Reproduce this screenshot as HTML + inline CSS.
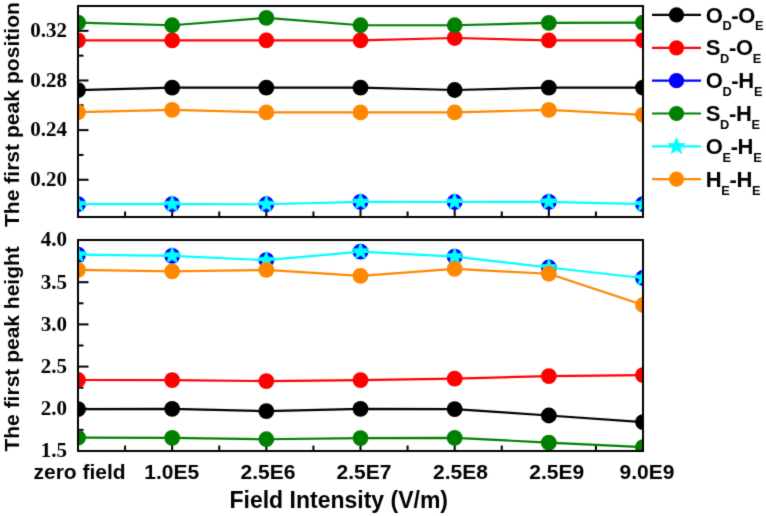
<!DOCTYPE html>
<html><head><meta charset="utf-8"><style>
html,body{margin:0;padding:0;background:#fff;}
body{width:766px;height:516px;overflow:hidden;}
svg{display:block;}
</style></head><body>
<svg width="766" height="516" viewBox="0 0 766 516">
<defs><filter id="bl" x="-5%" y="-5%" width="110%" height="110%" color-interpolation-filters="sRGB"><feConvolveMatrix order="3" kernelMatrix="0.0144 0.0912 0.0144 0.0912 0.5776 0.0912 0.0144 0.0912 0.0144" divisor="1" edgeMode="duplicate" preserveAlpha="false"/></filter><clipPath id="ct"><rect x="78" y="6" width="565" height="211"/></clipPath><clipPath id="cb"><rect x="78" y="240" width="565" height="211"/></clipPath></defs><g filter="url(#bl)"><rect x="-10" y="-10" width="800" height="550" fill="#fff"/><line x1="78" y1="179.76" x2="88.5" y2="179.76" stroke="#000" stroke-width="2"/><line x1="78" y1="130.12" x2="88.5" y2="130.12" stroke="#000" stroke-width="2"/><line x1="78" y1="80.47" x2="88.5" y2="80.47" stroke="#000" stroke-width="2"/><line x1="78" y1="30.82" x2="88.5" y2="30.82" stroke="#000" stroke-width="2"/><line x1="78" y1="204.59" x2="83.5" y2="204.59" stroke="#000" stroke-width="2"/><line x1="78" y1="154.94" x2="83.5" y2="154.94" stroke="#000" stroke-width="2"/><line x1="78" y1="105.29" x2="83.5" y2="105.29" stroke="#000" stroke-width="2"/><line x1="78" y1="55.65" x2="83.5" y2="55.65" stroke="#000" stroke-width="2"/><line x1="78.00" y1="217" x2="78.00" y2="207" stroke="#000" stroke-width="2"/><line x1="172.17" y1="217" x2="172.17" y2="207" stroke="#000" stroke-width="2"/><line x1="266.33" y1="217" x2="266.33" y2="207" stroke="#000" stroke-width="2"/><line x1="360.50" y1="217" x2="360.50" y2="207" stroke="#000" stroke-width="2"/><line x1="454.67" y1="217" x2="454.67" y2="207" stroke="#000" stroke-width="2"/><line x1="548.83" y1="217" x2="548.83" y2="207" stroke="#000" stroke-width="2"/><line x1="643.00" y1="217" x2="643.00" y2="207" stroke="#000" stroke-width="2"/><line x1="125.08" y1="217" x2="125.08" y2="211.5" stroke="#000" stroke-width="2"/><line x1="219.25" y1="217" x2="219.25" y2="211.5" stroke="#000" stroke-width="2"/><line x1="313.42" y1="217" x2="313.42" y2="211.5" stroke="#000" stroke-width="2"/><line x1="407.58" y1="217" x2="407.58" y2="211.5" stroke="#000" stroke-width="2"/><line x1="501.75" y1="217" x2="501.75" y2="211.5" stroke="#000" stroke-width="2"/><line x1="595.92" y1="217" x2="595.92" y2="211.5" stroke="#000" stroke-width="2"/><line x1="78" y1="451.00" x2="88.5" y2="451.00" stroke="#000" stroke-width="2"/><line x1="78" y1="408.80" x2="88.5" y2="408.80" stroke="#000" stroke-width="2"/><line x1="78" y1="366.60" x2="88.5" y2="366.60" stroke="#000" stroke-width="2"/><line x1="78" y1="324.40" x2="88.5" y2="324.40" stroke="#000" stroke-width="2"/><line x1="78" y1="282.20" x2="88.5" y2="282.20" stroke="#000" stroke-width="2"/><line x1="78" y1="240.00" x2="88.5" y2="240.00" stroke="#000" stroke-width="2"/><line x1="78" y1="429.90" x2="83.5" y2="429.90" stroke="#000" stroke-width="2"/><line x1="78" y1="387.70" x2="83.5" y2="387.70" stroke="#000" stroke-width="2"/><line x1="78" y1="345.50" x2="83.5" y2="345.50" stroke="#000" stroke-width="2"/><line x1="78" y1="303.30" x2="83.5" y2="303.30" stroke="#000" stroke-width="2"/><line x1="78" y1="261.10" x2="83.5" y2="261.10" stroke="#000" stroke-width="2"/><line x1="78.00" y1="451" x2="78.00" y2="441" stroke="#000" stroke-width="2"/><line x1="172.17" y1="451" x2="172.17" y2="441" stroke="#000" stroke-width="2"/><line x1="266.33" y1="451" x2="266.33" y2="441" stroke="#000" stroke-width="2"/><line x1="360.50" y1="451" x2="360.50" y2="441" stroke="#000" stroke-width="2"/><line x1="454.67" y1="451" x2="454.67" y2="441" stroke="#000" stroke-width="2"/><line x1="548.83" y1="451" x2="548.83" y2="441" stroke="#000" stroke-width="2"/><line x1="643.00" y1="451" x2="643.00" y2="441" stroke="#000" stroke-width="2"/><line x1="125.08" y1="451" x2="125.08" y2="445.5" stroke="#000" stroke-width="2"/><line x1="219.25" y1="451" x2="219.25" y2="445.5" stroke="#000" stroke-width="2"/><line x1="313.42" y1="451" x2="313.42" y2="445.5" stroke="#000" stroke-width="2"/><line x1="407.58" y1="451" x2="407.58" y2="445.5" stroke="#000" stroke-width="2"/><line x1="501.75" y1="451" x2="501.75" y2="445.5" stroke="#000" stroke-width="2"/><line x1="595.92" y1="451" x2="595.92" y2="445.5" stroke="#000" stroke-width="2"/><g clip-path="url(#ct)"><polyline points="78.00,90.20 172.17,87.60 266.33,87.60 360.50,87.60 454.67,90.00 548.83,87.60 643.00,87.60" fill="none" stroke="#000000" stroke-width="2.2" stroke-linejoin="round"/><circle cx="78.00" cy="90.20" r="7.9" fill="#000000"/><circle cx="172.17" cy="87.60" r="7.9" fill="#000000"/><circle cx="266.33" cy="87.60" r="7.9" fill="#000000"/><circle cx="360.50" cy="87.60" r="7.9" fill="#000000"/><circle cx="454.67" cy="90.00" r="7.9" fill="#000000"/><circle cx="548.83" cy="87.60" r="7.9" fill="#000000"/><circle cx="643.00" cy="87.60" r="7.9" fill="#000000"/><polyline points="78.00,40.35 172.17,40.35 266.33,40.30 360.50,40.30 454.67,38.00 548.83,40.35 643.00,40.30" fill="none" stroke="#FF0000" stroke-width="2.2" stroke-linejoin="round"/><circle cx="78.00" cy="40.35" r="7.9" fill="#FF0000"/><circle cx="172.17" cy="40.35" r="7.9" fill="#FF0000"/><circle cx="266.33" cy="40.30" r="7.9" fill="#FF0000"/><circle cx="360.50" cy="40.30" r="7.9" fill="#FF0000"/><circle cx="454.67" cy="38.00" r="7.9" fill="#FF0000"/><circle cx="548.83" cy="40.35" r="7.9" fill="#FF0000"/><circle cx="643.00" cy="40.30" r="7.9" fill="#FF0000"/><circle cx="78.00" cy="204.20" r="7.9" fill="#0000FF"/><circle cx="172.17" cy="204.20" r="7.9" fill="#0000FF"/><circle cx="266.33" cy="204.25" r="7.9" fill="#0000FF"/><circle cx="360.50" cy="201.90" r="7.9" fill="#0000FF"/><circle cx="454.67" cy="202.00" r="7.9" fill="#0000FF"/><circle cx="548.83" cy="201.80" r="7.9" fill="#0000FF"/><circle cx="643.00" cy="204.20" r="7.9" fill="#0000FF"/><polyline points="78.00,22.70 172.17,25.25 266.33,17.90 360.50,25.25 454.67,25.25 548.83,22.85 643.00,22.70" fill="none" stroke="#008000" stroke-width="2.2" stroke-linejoin="round"/><circle cx="78.00" cy="22.70" r="7.9" fill="#008000"/><circle cx="172.17" cy="25.25" r="7.9" fill="#008000"/><circle cx="266.33" cy="17.90" r="7.9" fill="#008000"/><circle cx="360.50" cy="25.25" r="7.9" fill="#008000"/><circle cx="454.67" cy="25.25" r="7.9" fill="#008000"/><circle cx="548.83" cy="22.85" r="7.9" fill="#008000"/><circle cx="643.00" cy="22.70" r="7.9" fill="#008000"/><polyline points="78.00,204.20 172.17,204.20 266.33,204.25 360.50,201.90 454.67,202.00 548.83,201.80 643.00,204.20" fill="none" stroke="#00FFFF" stroke-width="2.2" stroke-linejoin="round"/><polygon points="78.00,195.50 80.15,201.24 86.27,201.51 81.48,205.33 83.11,211.24 78.00,207.85 72.89,211.24 74.52,205.33 69.73,201.51 75.85,201.24" fill="#00FFFF" stroke="#00FFFF" stroke-width="0.9" stroke-linejoin="round"/><polygon points="172.17,195.50 174.31,201.24 180.44,201.51 175.64,205.33 177.28,211.24 172.17,207.85 167.05,211.24 168.69,205.33 163.89,201.51 170.02,201.24" fill="#00FFFF" stroke="#00FFFF" stroke-width="0.9" stroke-linejoin="round"/><polygon points="266.33,195.55 268.48,201.29 274.61,201.56 269.81,205.38 271.45,211.29 266.33,207.90 261.22,211.29 262.86,205.38 258.06,201.56 264.19,201.29" fill="#00FFFF" stroke="#00FFFF" stroke-width="0.9" stroke-linejoin="round"/><polygon points="360.50,193.20 362.65,198.94 368.77,199.21 363.98,203.03 365.61,208.94 360.50,205.55 355.39,208.94 357.02,203.03 352.23,199.21 358.35,198.94" fill="#00FFFF" stroke="#00FFFF" stroke-width="0.9" stroke-linejoin="round"/><polygon points="454.67,193.30 456.81,199.04 462.94,199.31 458.14,203.13 459.78,209.04 454.67,205.65 449.55,209.04 451.19,203.13 446.39,199.31 452.52,199.04" fill="#00FFFF" stroke="#00FFFF" stroke-width="0.9" stroke-linejoin="round"/><polygon points="548.83,193.10 550.98,198.84 557.11,199.11 552.31,202.93 553.95,208.84 548.83,205.45 543.72,208.84 545.36,202.93 540.56,199.11 546.69,198.84" fill="#00FFFF" stroke="#00FFFF" stroke-width="0.9" stroke-linejoin="round"/><polygon points="643.00,195.50 645.15,201.24 651.27,201.51 646.48,205.33 648.11,211.24 643.00,207.85 637.89,211.24 639.52,205.33 634.73,201.51 640.85,201.24" fill="#00FFFF" stroke="#00FFFF" stroke-width="0.9" stroke-linejoin="round"/><polyline points="78.00,112.20 172.17,109.90 266.33,112.40 360.50,112.40 454.67,112.40 548.83,109.90 643.00,114.85" fill="none" stroke="#FF8800" stroke-width="2.2" stroke-linejoin="round"/><circle cx="78.00" cy="112.20" r="7.9" fill="#FF8800"/><circle cx="172.17" cy="109.90" r="7.9" fill="#FF8800"/><circle cx="266.33" cy="112.40" r="7.9" fill="#FF8800"/><circle cx="360.50" cy="112.40" r="7.9" fill="#FF8800"/><circle cx="454.67" cy="112.40" r="7.9" fill="#FF8800"/><circle cx="548.83" cy="109.90" r="7.9" fill="#FF8800"/><circle cx="643.00" cy="114.85" r="7.9" fill="#FF8800"/></g><g clip-path="url(#cb)"><polyline points="78.00,409.20 172.17,408.85 266.33,411.15 360.50,408.85 454.67,409.10 548.83,415.50 643.00,422.05" fill="none" stroke="#000000" stroke-width="2.2" stroke-linejoin="round"/><circle cx="78.00" cy="409.20" r="7.9" fill="#000000"/><circle cx="172.17" cy="408.85" r="7.9" fill="#000000"/><circle cx="266.33" cy="411.15" r="7.9" fill="#000000"/><circle cx="360.50" cy="408.85" r="7.9" fill="#000000"/><circle cx="454.67" cy="409.10" r="7.9" fill="#000000"/><circle cx="548.83" cy="415.50" r="7.9" fill="#000000"/><circle cx="643.00" cy="422.05" r="7.9" fill="#000000"/><polyline points="78.00,380.00 172.17,380.10 266.33,381.10 360.50,380.10 454.67,378.65 548.83,376.05 643.00,375.20" fill="none" stroke="#FF0000" stroke-width="2.2" stroke-linejoin="round"/><circle cx="78.00" cy="380.00" r="7.9" fill="#FF0000"/><circle cx="172.17" cy="380.10" r="7.9" fill="#FF0000"/><circle cx="266.33" cy="381.10" r="7.9" fill="#FF0000"/><circle cx="360.50" cy="380.10" r="7.9" fill="#FF0000"/><circle cx="454.67" cy="378.65" r="7.9" fill="#FF0000"/><circle cx="548.83" cy="376.05" r="7.9" fill="#FF0000"/><circle cx="643.00" cy="375.20" r="7.9" fill="#FF0000"/><circle cx="78.00" cy="254.60" r="7.9" fill="#0000FF"/><circle cx="172.17" cy="255.80" r="7.9" fill="#0000FF"/><circle cx="266.33" cy="260.20" r="7.9" fill="#0000FF"/><circle cx="360.50" cy="251.65" r="7.9" fill="#0000FF"/><circle cx="454.67" cy="256.60" r="7.9" fill="#0000FF"/><circle cx="548.83" cy="267.50" r="7.9" fill="#0000FF"/><circle cx="643.00" cy="278.00" r="7.9" fill="#0000FF"/><polyline points="78.00,437.70 172.17,437.85 266.33,439.25 360.50,438.05 454.67,437.85 548.83,442.65 643.00,447.20" fill="none" stroke="#008000" stroke-width="2.2" stroke-linejoin="round"/><circle cx="78.00" cy="437.70" r="7.9" fill="#008000"/><circle cx="172.17" cy="437.85" r="7.9" fill="#008000"/><circle cx="266.33" cy="439.25" r="7.9" fill="#008000"/><circle cx="360.50" cy="438.05" r="7.9" fill="#008000"/><circle cx="454.67" cy="437.85" r="7.9" fill="#008000"/><circle cx="548.83" cy="442.65" r="7.9" fill="#008000"/><circle cx="643.00" cy="447.20" r="7.9" fill="#008000"/><polyline points="78.00,254.60 172.17,255.80 266.33,260.20 360.50,251.65 454.67,256.60 548.83,267.50 643.00,278.00" fill="none" stroke="#00FFFF" stroke-width="2.2" stroke-linejoin="round"/><polygon points="78.00,245.90 80.15,251.64 86.27,251.91 81.48,255.73 83.11,261.64 78.00,258.25 72.89,261.64 74.52,255.73 69.73,251.91 75.85,251.64" fill="#00FFFF" stroke="#00FFFF" stroke-width="0.9" stroke-linejoin="round"/><polygon points="172.17,247.10 174.31,252.84 180.44,253.11 175.64,256.93 177.28,262.84 172.17,259.45 167.05,262.84 168.69,256.93 163.89,253.11 170.02,252.84" fill="#00FFFF" stroke="#00FFFF" stroke-width="0.9" stroke-linejoin="round"/><polygon points="266.33,251.50 268.48,257.24 274.61,257.51 269.81,261.33 271.45,267.24 266.33,263.85 261.22,267.24 262.86,261.33 258.06,257.51 264.19,257.24" fill="#00FFFF" stroke="#00FFFF" stroke-width="0.9" stroke-linejoin="round"/><polygon points="360.50,242.95 362.65,248.69 368.77,248.96 363.98,252.78 365.61,258.69 360.50,255.30 355.39,258.69 357.02,252.78 352.23,248.96 358.35,248.69" fill="#00FFFF" stroke="#00FFFF" stroke-width="0.9" stroke-linejoin="round"/><polygon points="454.67,247.90 456.81,253.64 462.94,253.91 458.14,257.73 459.78,263.64 454.67,260.25 449.55,263.64 451.19,257.73 446.39,253.91 452.52,253.64" fill="#00FFFF" stroke="#00FFFF" stroke-width="0.9" stroke-linejoin="round"/><polygon points="548.83,258.80 550.98,264.54 557.11,264.81 552.31,268.63 553.95,274.54 548.83,271.15 543.72,274.54 545.36,268.63 540.56,264.81 546.69,264.54" fill="#00FFFF" stroke="#00FFFF" stroke-width="0.9" stroke-linejoin="round"/><polygon points="643.00,269.30 645.15,275.04 651.27,275.31 646.48,279.13 648.11,285.04 643.00,281.65 637.89,285.04 639.52,279.13 634.73,275.31 640.85,275.04" fill="#00FFFF" stroke="#00FFFF" stroke-width="0.9" stroke-linejoin="round"/><polyline points="78.00,269.90 172.17,271.35 266.33,269.90 360.50,275.80 454.67,268.90 548.83,273.75 643.00,305.00" fill="none" stroke="#FF8800" stroke-width="2.2" stroke-linejoin="round"/><circle cx="78.00" cy="269.90" r="7.9" fill="#FF8800"/><circle cx="172.17" cy="271.35" r="7.9" fill="#FF8800"/><circle cx="266.33" cy="269.90" r="7.9" fill="#FF8800"/><circle cx="360.50" cy="275.80" r="7.9" fill="#FF8800"/><circle cx="454.67" cy="268.90" r="7.9" fill="#FF8800"/><circle cx="548.83" cy="273.75" r="7.9" fill="#FF8800"/><circle cx="643.00" cy="305.00" r="7.9" fill="#FF8800"/></g><rect x="78" y="6" width="565" height="211" fill="none" stroke="#000" stroke-width="2"/><rect x="78" y="240" width="565" height="211" fill="none" stroke="#000" stroke-width="2"/><text x="67" y="37.12" text-anchor="end" font-family="Liberation Serif" font-weight="bold" font-size="21">0.32</text><text x="67" y="86.77" text-anchor="end" font-family="Liberation Serif" font-weight="bold" font-size="21">0.28</text><text x="67" y="136.42" text-anchor="end" font-family="Liberation Serif" font-weight="bold" font-size="21">0.24</text><text x="67" y="186.06" text-anchor="end" font-family="Liberation Serif" font-weight="bold" font-size="21">0.20</text><text x="67" y="246.30" text-anchor="end" font-family="Liberation Serif" font-weight="bold" font-size="21">4.0</text><text x="67" y="288.50" text-anchor="end" font-family="Liberation Serif" font-weight="bold" font-size="21">3.5</text><text x="67" y="330.70" text-anchor="end" font-family="Liberation Serif" font-weight="bold" font-size="21">3.0</text><text x="67" y="372.90" text-anchor="end" font-family="Liberation Serif" font-weight="bold" font-size="21">2.5</text><text x="67" y="415.10" text-anchor="end" font-family="Liberation Serif" font-weight="bold" font-size="21">2.0</text><text x="67" y="457.30" text-anchor="end" font-family="Liberation Serif" font-weight="bold" font-size="21">1.5</text><text x="79.6" y="479.2" text-anchor="middle" font-family="Liberation Sans" font-weight="bold" font-size="21">zero field</text><text x="171.8" y="479.2" text-anchor="middle" font-family="Liberation Sans" font-weight="bold" font-size="21">1.0E5</text><text x="268.0" y="479.2" text-anchor="middle" font-family="Liberation Sans" font-weight="bold" font-size="21">2.5E6</text><text x="364.05" y="479.2" text-anchor="middle" font-family="Liberation Sans" font-weight="bold" font-size="21">2.5E7</text><text x="460.4" y="479.2" text-anchor="middle" font-family="Liberation Sans" font-weight="bold" font-size="21">2.5E8</text><text x="556.7" y="479.2" text-anchor="middle" font-family="Liberation Sans" font-weight="bold" font-size="21">2.5E9</text><text x="647.0" y="479.2" text-anchor="middle" font-family="Liberation Sans" font-weight="bold" font-size="21">9.0E9</text><text x="338.75" y="507.7" text-anchor="middle" font-family="Liberation Sans" font-weight="bold" font-size="23">Field Intensity (V/m)</text><text transform="translate(18.7,114.6) rotate(-90)" text-anchor="middle" font-family="Liberation Sans" font-weight="bold" font-size="21.1">The first peak position</text><text transform="translate(18.7,348.85) rotate(-90)" text-anchor="middle" font-family="Liberation Sans" font-weight="bold" font-size="21">The first peak height</text><line x1="652" y1="14.95" x2="701" y2="14.95" stroke="#000000" stroke-width="2.2"/><circle cx="676.5" cy="14.95" r="7.6" fill="#000000"/><text x="705.7" y="22.55" font-family="Liberation Sans" font-weight="bold" font-size="22" letter-spacing="-0.35">O<tspan font-size="12.8" dy="7.8">D</tspan><tspan dy="-7.8">-O</tspan><tspan font-size="12.8" dy="7.8">E</tspan></text><line x1="652" y1="47.80" x2="701" y2="47.80" stroke="#FF0000" stroke-width="2.2"/><circle cx="676.5" cy="47.80" r="7.6" fill="#FF0000"/><text x="705.7" y="55.40" font-family="Liberation Sans" font-weight="bold" font-size="22" letter-spacing="-0.35">S<tspan font-size="12.8" dy="7.8">D</tspan><tspan dy="-7.8">-O</tspan><tspan font-size="12.8" dy="7.8">E</tspan></text><line x1="652" y1="80.65" x2="701" y2="80.65" stroke="#0000FF" stroke-width="2.2"/><circle cx="676.5" cy="80.65" r="7.6" fill="#0000FF"/><text x="705.7" y="88.25" font-family="Liberation Sans" font-weight="bold" font-size="22" letter-spacing="-0.35">O<tspan font-size="12.8" dy="7.8">D</tspan><tspan dy="-7.8">-H</tspan><tspan font-size="12.8" dy="7.8">E</tspan></text><line x1="652" y1="113.50" x2="701" y2="113.50" stroke="#008000" stroke-width="2.2"/><circle cx="676.5" cy="113.50" r="7.6" fill="#008000"/><text x="705.7" y="121.10" font-family="Liberation Sans" font-weight="bold" font-size="22" letter-spacing="-0.35">S<tspan font-size="12.8" dy="7.8">D</tspan><tspan dy="-7.8">-H</tspan><tspan font-size="12.8" dy="7.8">E</tspan></text><line x1="652" y1="146.35" x2="701" y2="146.35" stroke="#00FFFF" stroke-width="2.2"/><polygon points="676.50,137.65 678.65,143.39 684.77,143.66 679.98,147.48 681.61,153.39 676.50,150.00 671.39,153.39 673.02,147.48 668.23,143.66 674.35,143.39" fill="#00FFFF" stroke="#00FFFF" stroke-width="0.9" stroke-linejoin="round"/><text x="705.7" y="153.95" font-family="Liberation Sans" font-weight="bold" font-size="22" letter-spacing="-0.35">O<tspan font-size="12.8" dy="7.8">E</tspan><tspan dy="-7.8">-H</tspan><tspan font-size="12.8" dy="7.8">E</tspan></text><line x1="652" y1="179.20" x2="701" y2="179.20" stroke="#FF8800" stroke-width="2.2"/><circle cx="676.5" cy="179.20" r="7.6" fill="#FF8800"/><text x="705.7" y="186.80" font-family="Liberation Sans" font-weight="bold" font-size="22" letter-spacing="-0.35">H<tspan font-size="12.8" dy="7.8">E</tspan><tspan dy="-7.8">-H</tspan><tspan font-size="12.8" dy="7.8">E</tspan></text></g>
</svg>
</body></html>
